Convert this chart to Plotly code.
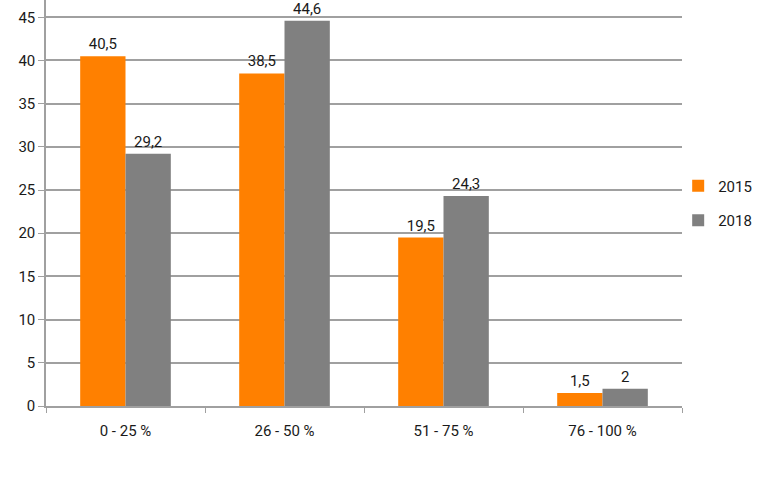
import plotly.graph_objects as go

categories = ["0 - 25 %", "26 - 50 %", "51 - 75 %", "76 - 100 %"]
values_2015 = [40.5, 38.5, 19.5, 1.5]
values_2018 = [29.2, 44.6, 24.3, 2]
series_names = ["2015", "2018"]
y_ticks = [0, 5, 10, 15, 20, 25, 30, 35, 40, 45]

FONT = "Roboto"

fig = go.Figure()
for name, vals, color in [(series_names[0], values_2015, "#FF8000"),
                          (series_names[1], values_2018, "#808080")]:
    fig.add_trace(go.Bar(
        x=categories, y=vals, name=name, legendgroup=name,
        marker=dict(color=color, line=dict(width=0)),
        text=vals, texttemplate="%{y}", textposition="outside",
        textfont=dict(size=15, color="#1a1a1a", family=FONT),
        cliponaxis=False,
    ))

fig.update_layout(
    width=769, height=501,
    margin=dict(l=46, r=87, t=0, b=95, autoexpand=False),
    paper_bgcolor="white", plot_bgcolor="white",
    barmode="group", bargap=0.43, bargroupgap=0,
    separators=", ",
    font=dict(family=FONT, size=15, color="#1a1a1a"),
    showlegend=True,
    legend=dict(x=0.994, y=0.50, xanchor="left", yanchor="middle",
                font=dict(size=15, family=FONT), traceorder="grouped",
                tracegroupgap=12, itemwidth=30, bgcolor="rgba(0,0,0,0)"),
    xaxis=dict(showline=True, linecolor="#A0A0A0", linewidth=1.5,
               ticks="outside", tickcolor="#A0A0A0", ticklen=5,
               tickson="boundaries", showgrid=False, automargin=False,
               ticklabelstandoff=10,
               tickfont=dict(size=15, family=FONT)),
    yaxis=dict(range=[0, 47], tickvals=y_ticks, showgrid=True,
               gridcolor="#A0A0A0", gridwidth=1.5, automargin=False,
               showline=True, linecolor="#A0A0A0", linewidth=1.5,
               ticks="outside", tickcolor="#A0A0A0", ticklen=6,
               zeroline=False, tickfont=dict(size=15, family=FONT)),
)

fig.write_html(
    "out.html",
    config={"displayModeBar": False},
    post_script="document.body.style.margin='0';document.body.style.padding='0';",
)
